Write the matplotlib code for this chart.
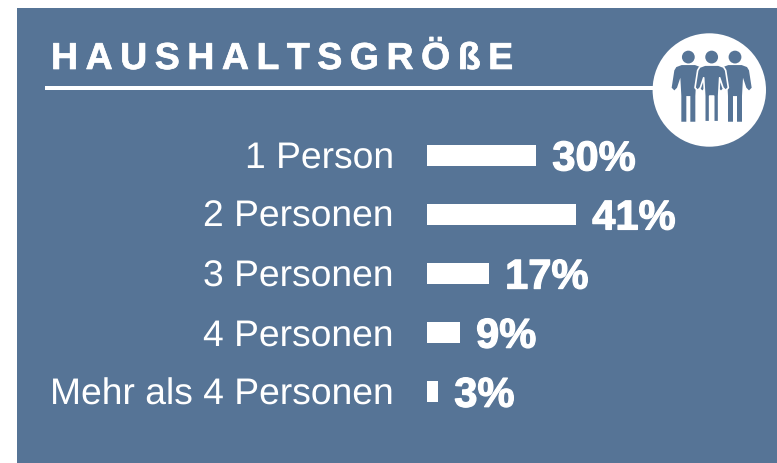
import matplotlib
matplotlib.use("Agg")
import matplotlib.pyplot as plt
from matplotlib.patches import Rectangle, Circle, Polygon
from matplotlib.transforms import ScaledTranslation
import matplotlib.patheffects as pe

categories = ["1 Person", "2 Personen", "3 Personen", "4 Personen", "Mehr als 4 Personen"]
shares = [30, 41, 17, 9, 3]
value_labels = ["30%", "41%", "17%", "9%", "3%"]
title = "H\u2009A\u2009U\u2009S\u2009H\u2009A\u2009L\u2009T\u2009S\u2009G\u2009R\u2009Ö\u2009ß\u2009E"

W, H = 777, 464
BG = "#567496"
plt.rcParams["font.family"] = ["Liberation Sans", "DejaVu Sans"]
plt.rcParams["text.hinting"] = "no_hinting"

fig = plt.figure(figsize=(W / 100, H / 100), dpi=100, facecolor="white")

# overlay in pixel coordinates for the panel and decorations
deco = fig.add_axes([0, 0, 1, 1], zorder=0)
deco.set_xlim(0, W); deco.set_ylim(H, 0); deco.axis("off")
deco.add_patch(Rectangle((17, 9.4), W - 17, H - 9.4, fc=BG, ec="none"))
deco.add_patch(Rectangle((45, 87), 620, 3.8, fc="white", ec="none"))
deco.add_patch(Circle((709.3, 91), 56.7, fc="white", ec="none"))
deco.text(51, 70, title, color="white", fontsize=27, fontweight="bold", ha="left", va="baseline",
          path_effects=[pe.withStroke(linewidth=0.5, foreground="white")])

# people icon
shape = [(-20, 62), (20, 62), (36, 68), (42, 78), (50, 130), (42, 138), (34, 130), (24, 100),
         (21, 155), (21, 232), (6, 232), (6, 155), (-6, 155), (-6, 232), (-21, 232), (-21, 155),
         (-24, 100), (-34, 130), (-42, 138), (-50, 130), (-42, 78), (-36, 68)]
def person(cx, lw, z):
    pts = [(665 + (cx + dx) / 3, 45.4 + y / 3) for dx, y in shape]
    deco.add_patch(Polygon(pts, closed=True, fc=BG, ec="white" if lw else BG, lw=lw, zorder=z, joinstyle="round"))
    deco.add_patch(Circle((665 + cx / 3, 45.4 + 38 / 3), 6.4, fc=BG, ec="none", zorder=z))
person(70, 0, 3)
person(210, 0, 3)
person(140, 1.2, 4)

# bar chart
x0, px_per_unit = 427, 3.63
top, bottom = 126.5, 422.0
ax = fig.add_axes([x0 / W, 1 - bottom / H, (W - x0) / W, (bottom - top) / H], zorder=1)
ax.patch.set_alpha(0)
ax.set_xlim(0, (W - x0) / px_per_unit)
ax.set_ylim(len(categories) - 0.5, -0.5)
y = list(range(len(categories)))
ax.barh(y, shares, height=21 / 59.1, color="white", edgecolor="none")
ax.set_yticks(y, categories, color="white", fontsize=26.8)
ax.tick_params(axis="y", length=0, pad=23.8)
shift = ScaledTranslation(0, 1.5 / 100, fig.dpi_scale_trans)
for t in ax.get_yticklabels():
    t.set_transform(t.get_transform() + shift)
ax.set_xticks([])
for s in ax.spines.values():
    s.set_visible(False)
for yi, v, lab in zip(y, shares, value_labels):
    ax.annotate(lab, (v, yi), xytext=(11.8, -3.2), textcoords="offset points", color="white",
                fontsize=30, fontweight="bold", ha="left", va="center",
                path_effects=[pe.withStroke(linewidth=0.9, foreground="white")])

fig.savefig("out.png", dpi=100, facecolor="white")
